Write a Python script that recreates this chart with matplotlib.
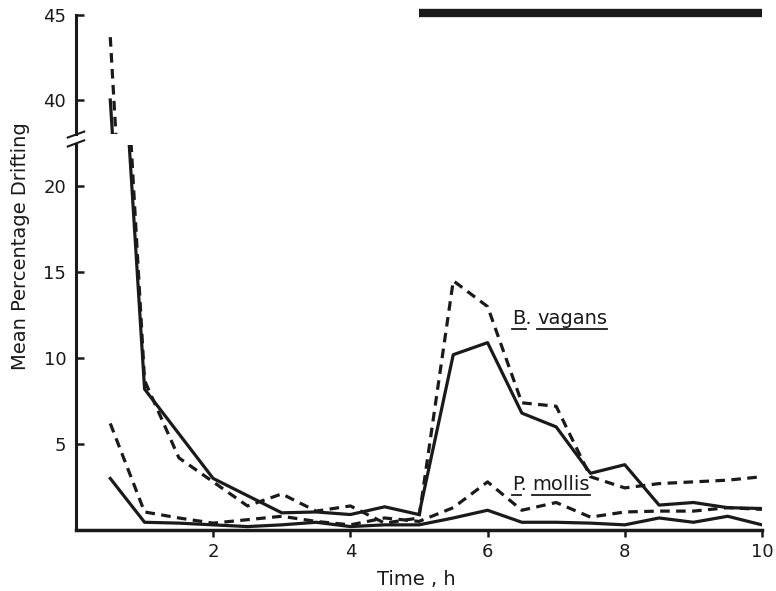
import matplotlib
matplotlib.use("Agg")
import matplotlib.pyplot as plt
from matplotlib.lines import Line2D

# time points (h)
time_h = [0.5, 1.0, 1.5, 2.0, 2.5, 3.0, 3.5, 4.0, 4.5, 5.0,
          5.5, 6.0, 6.5, 7.0, 7.5, 8.0, 8.5, 9.0, 9.5, 10.0]

# B. vagans, solid and dashed
bv_solid = [40.0, 8.2, 5.6, 3.0, 2.0, 1.0, 1.05, 0.9, 1.35, 0.9,
            10.2, 10.9, 6.8, 6.0, 3.3, 3.8, 1.45, 1.6, 1.3, 1.25]
bv_dashed = [43.7, 8.7, 4.2, 2.8, 1.4, 2.1, 1.1, 1.4, 0.4, 0.7,
             14.5, 13.0, 7.4, 7.2, 3.1, 2.45, 2.7, 2.8, 2.9, 3.1]

# P. mollis, solid and dashed
pm_solid = [3.0, 0.45, 0.4, 0.3, 0.2, 0.3, 0.45, 0.2, 0.3, 0.3,
            0.7, 1.15, 0.45, 0.45, 0.4, 0.3, 0.7, 0.45, 0.8, 0.3]
pm_dashed = [6.2, 1.05, 0.7, 0.4, 0.6, 0.8, 0.5, 0.3, 0.7, 0.5,
             1.3, 2.8, 1.15, 1.6, 0.75, 1.05, 1.1, 1.1, 1.3, 1.2]

# dark period bar
dark_start, dark_end = 5.0, 10.0

ink = "#1a1a1a"
dash = (0, (3, 2))
lw = 2.3

fig = plt.figure(figsize=(7.76, 5.91), dpi=100)
ax_lo = fig.add_axes([0.0979, 0.1032, 0.884, 0.6515])
ax_hi = fig.add_axes([0.0979, 0.7733, 0.884, 0.2013], sharex=ax_lo)

for ax in (ax_lo, ax_hi):
    ax.plot(time_h, bv_solid, color=ink, lw=lw)
    ax.plot(time_h, bv_dashed, color=ink, lw=lw, linestyle=dash)
    ax.plot(time_h, pm_solid, color=ink, lw=lw)
    ax.plot(time_h, pm_dashed, color=ink, lw=lw, linestyle=dash)
    ax.spines["top"].set_visible(False)
    ax.spines["right"].set_visible(False)
    ax.spines["left"].set_linewidth(2.2)
    ax.spines["left"].set_color(ink)
    ax.tick_params(axis="y", direction="in", length=6, width=1.8,
                   labelsize=13, pad=7, colors=ink)

ax_lo.set_xlim(0, 10)
ax_lo.set_ylim(0, 22.4)
ax_hi.set_ylim(38, 45)

ax_lo.set_xticks([2, 4, 6, 8, 10])
ax_lo.set_yticks([5, 10, 15, 20])
ax_hi.set_yticks([40, 45])

ax_lo.spines["bottom"].set_linewidth(2.5)
ax_lo.spines["bottom"].set_color(ink)
ax_lo.tick_params(axis="x", direction="out", length=5, width=1.8,
                  labelsize=13, pad=4, colors=ink)

ax_hi.spines["bottom"].set_visible(False)
ax_hi.tick_params(axis="x", bottom=False, labelbottom=False)

# dark bar along the top
ax_hi.plot([dark_start, dark_end], [45.1, 45.1], color=ink, lw=6,
           solid_capstyle="butt", clip_on=False)

# axis break marks
d = 0.012
ax_lo.plot([-d, d], [1.0 - 0.004, 1.0 + 0.012], transform=ax_lo.transAxes,
           color=ink, lw=1.5, clip_on=False)
ax_hi.plot([-d, d], [-0.03, 0.02], transform=ax_hi.transAxes,
           color=ink, lw=1.5, clip_on=False)

# species labels, each word underlined
labels = []
labels.append(ax_lo.text(6.36, 12.0, "B.", fontsize=14, color=ink))
labels.append(ax_lo.text(6.72, 12.0, "vagans", fontsize=14, color=ink))
labels.append(ax_lo.text(6.36, 2.3, "P.", fontsize=14, color=ink))
labels.append(ax_lo.text(6.65, 2.3, "mollis", fontsize=14, color=ink))

fig.text(0.026, 0.584, "Mean Percentage Drifting", rotation=90,
         ha="center", va="center", fontsize=14, color=ink)
fig.text(0.537, 0.019, "Time , h", ha="center", va="center",
         fontsize=14, color=ink)

fig.canvas.draw()
renderer = fig.canvas.get_renderer()
W, H = fig.bbox.width, fig.bbox.height
for t in labels:
    bb = t.get_window_extent(renderer)
    x0, x1 = bb.x0, bb.x1
    if t.get_text().endswith("."):
        x1 = x1 - 6
    y = bb.y0 - 1
    fig.add_artist(Line2D([x0 / W, x1 / W], [y / H, y / H],
                          transform=fig.transFigure, color=ink, lw=1.3))

fig.savefig("out.png", dpi=100, facecolor="white")
